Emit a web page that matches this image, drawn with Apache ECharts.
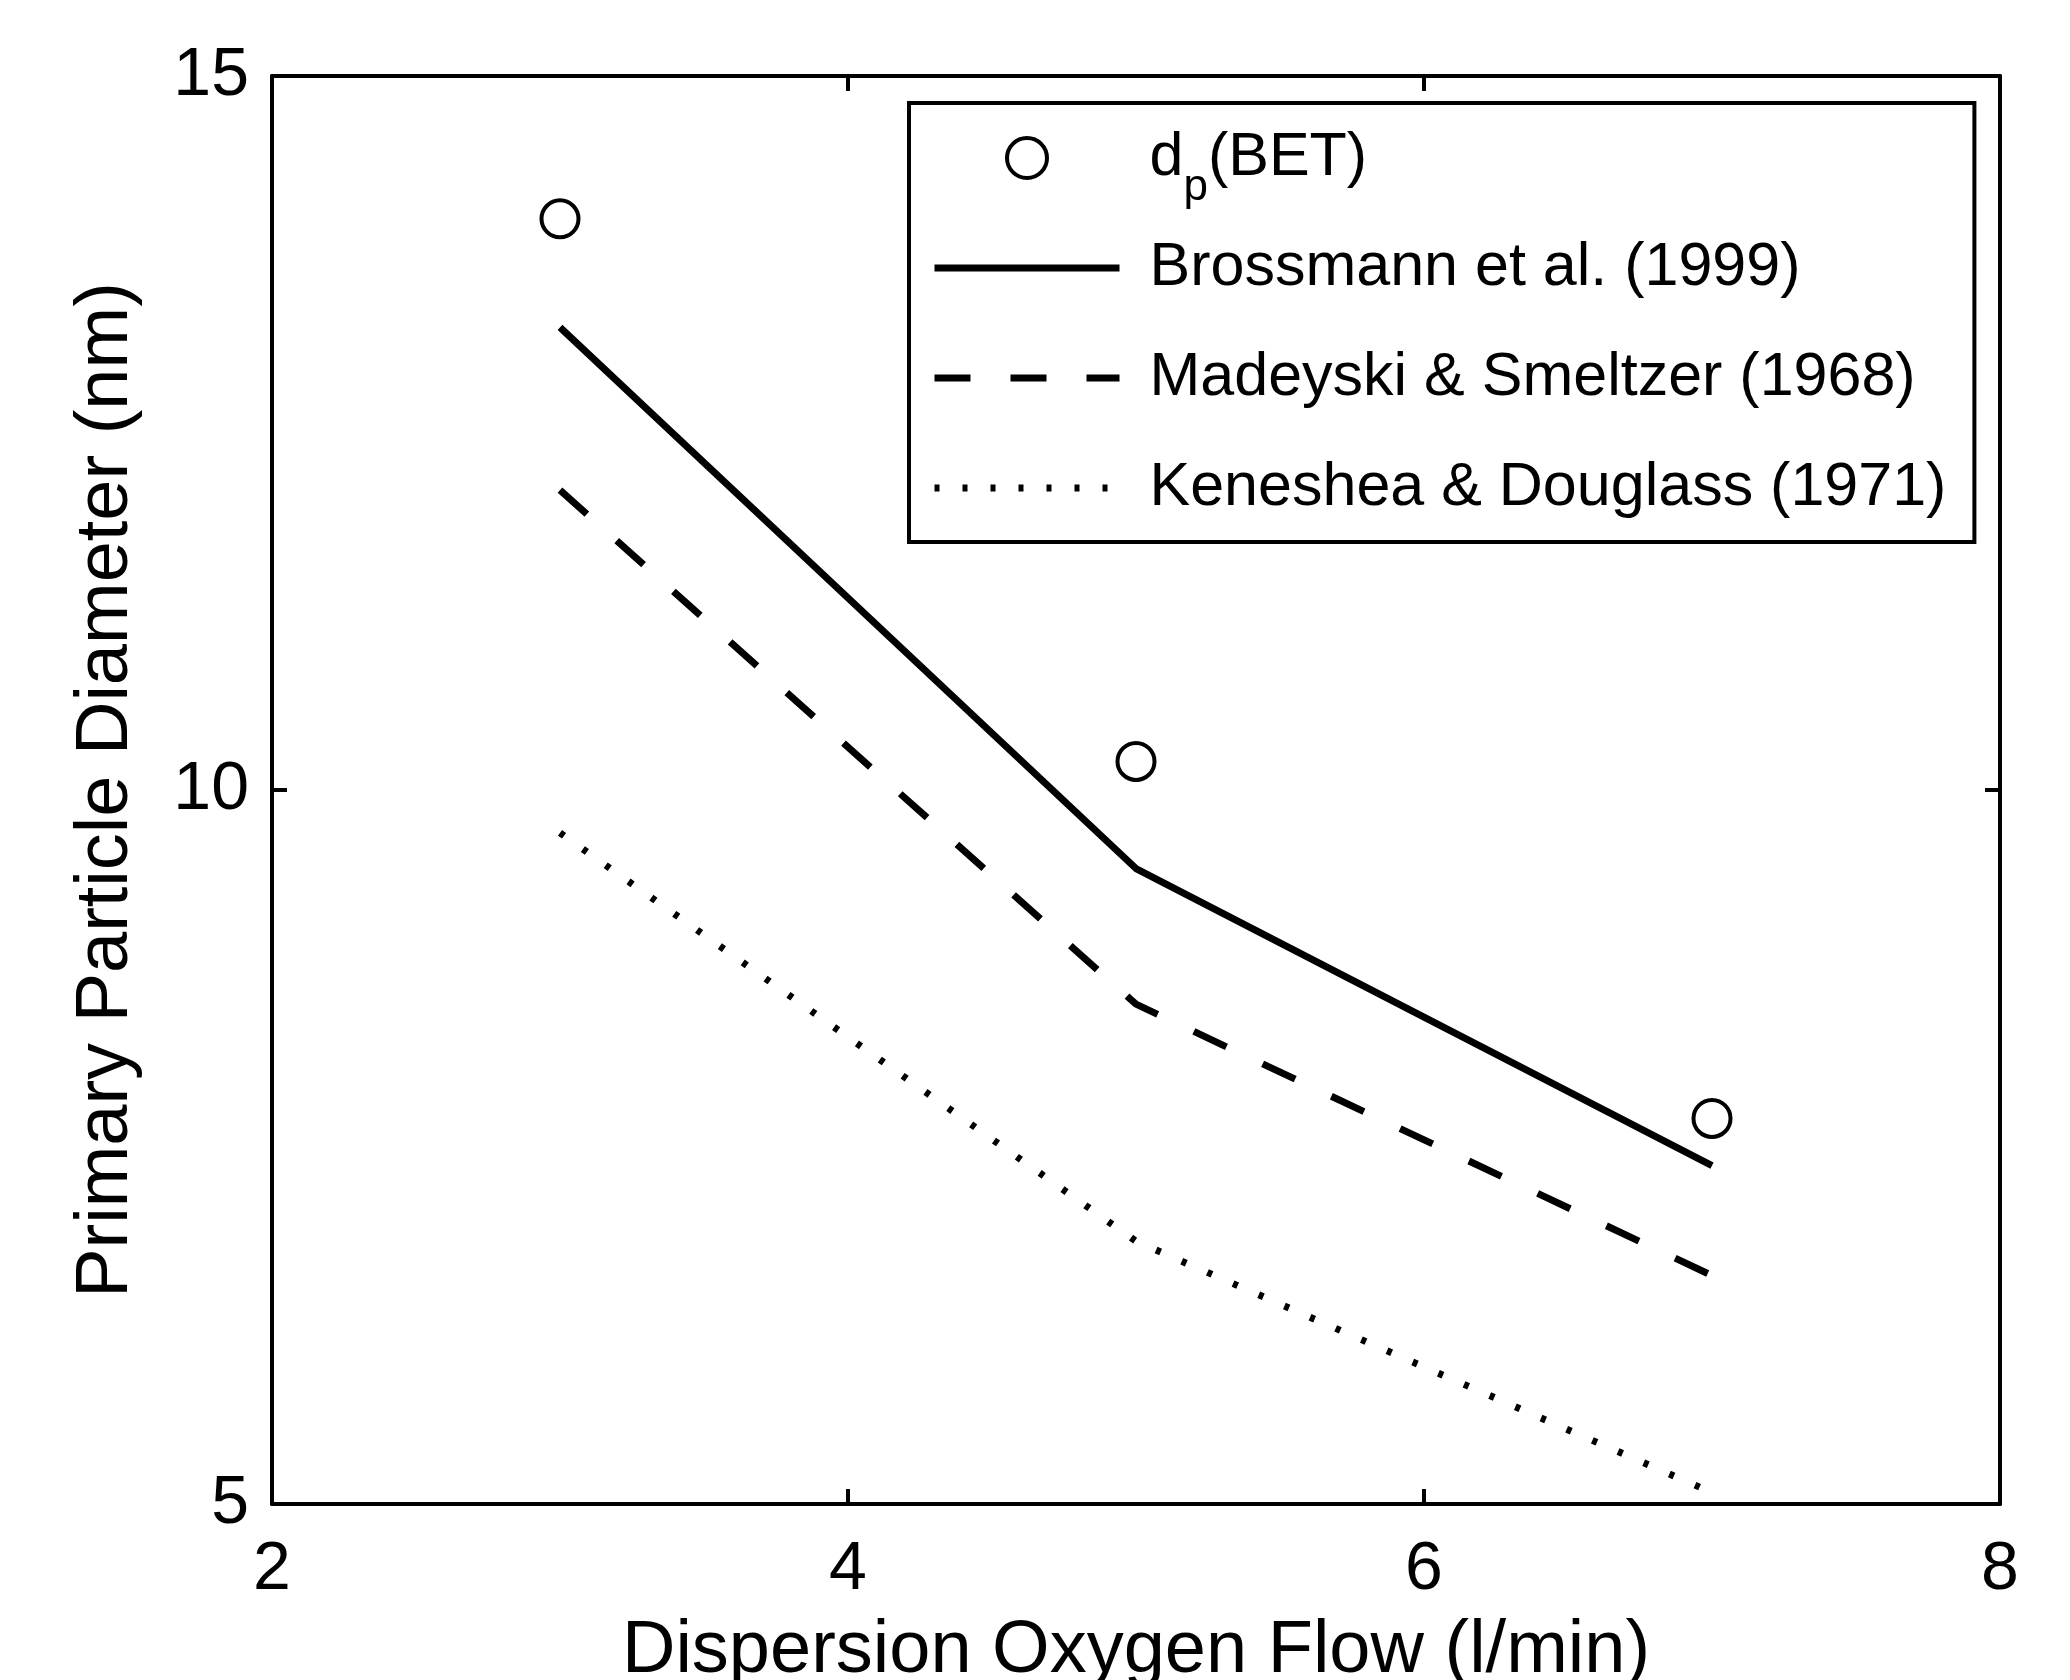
<!DOCTYPE html>
<html>
<head>
<meta charset="utf-8">
<script src="https://cdn.jsdelivr.net/npm/echarts@6/dist/echarts.min.js"></script>
<style>
html,body{margin:0;padding:0;background:#fff;}
#chart{width:2070px;height:1680px;}
</style>
</head>
<body>
<div id="chart"></div>
<script>
// ---- data ----
const flowX = [3, 5, 7];                       // Dispersion oxygen flow (l/min)
const betValues = [14.0, 10.2, 7.7];            // d_p(BET)
const brossmannValues = [13.24, 9.45, 7.37];    // Brossmann et al. (1999)
const madeyskiValues = [12.1, 8.5, 6.6];        // Madeyski & Smeltzer (1968)
const kenesheaValues = [9.7, 6.84, 5.08];       // Keneshea & Douglass (1971)
const seriesNames = ['dp(BET)', 'Brossmann et al. (1999)', 'Madeyski & Smeltzer (1968)', 'Keneshea & Douglass (1971)'];
const xTicks = [2, 4, 6, 8];
const yTicks = [5, 10, 15];
const xTitle = 'Dispersion Oxygen Flow (l/min)';
const yTitle = 'Primary Particle Diameter (nm)';

const FONT = "'Liberation Sans', Arial, Helvetica, sans-serif";
const pairs = (xs, ys) => xs.map((x, i) => [x, ys[i]]);

const axisCommon = {
  type: 'value',
  axisLine: { show: true, lineStyle: { color: '#000', width: 4 } },
  axisTick: { show: true, inside: true, length: 15, lineStyle: { color: '#000', width: 4 } },
  splitLine: { show: false }
};

const hiddenSymbol = { color: 'rgba(0,0,0,0)', borderColor: 'rgba(0,0,0,0)', borderWidth: 0, opacity: 0 };

const chart = echarts.init(document.getElementById('chart'), null, { renderer: 'canvas' });
chart.setOption({
  animation: false,
  backgroundColor: '#fff',
  grid: { left: 272, top: 76, right: 70, bottom: 176, containLabel: false, outerBoundsMode: 'none' },
  xAxis: [
    Object.assign({}, axisCommon, {
      position: 'bottom',
      min: xTicks[0], max: xTicks[xTicks.length - 1], interval: xTicks[1] - xTicks[0],
      name: xTitle, nameLocation: 'middle', nameGap: 111,
      nameTextStyle: { fontFamily: FONT, fontSize: 74, color: '#000' },
      axisLabel: { show: true, margin: 32, fontFamily: FONT, fontSize: 68, color: '#000' }
    }),
    Object.assign({}, axisCommon, {
      position: 'top',
      min: xTicks[0], max: xTicks[xTicks.length - 1], interval: xTicks[1] - xTicks[0],
      axisLabel: { show: false }
    })
  ],
  yAxis: [
    Object.assign({}, axisCommon, {
      position: 'left',
      min: yTicks[0], max: yTicks[yTicks.length - 1], interval: yTicks[1] - yTicks[0],
      name: yTitle, nameLocation: 'middle', nameGap: 128,
      nameTextStyle: { fontFamily: FONT, fontSize: 74, color: '#000' },
      axisLabel: { show: true, margin: 23, fontFamily: FONT, fontSize: 68, color: '#000', padding: [6, 0, 0, 0] }
    }),
    Object.assign({}, axisCommon, {
      position: 'right',
      min: yTicks[0], max: yTicks[yTicks.length - 1], interval: yTicks[1] - yTicks[0],
      axisLabel: { show: false }
    })
  ],
  legend: {
    show: true,
    orient: 'vertical',
    left: 909, top: 103,
    padding: [3, 28, 2, 22],
    itemGap: 6,
    itemWidth: 185,
    itemHeight: 40,
    backgroundColor: '#fff',
    borderColor: '#000',
    borderWidth: 4,
    borderRadius: 0,
    data: [
      { name: seriesNames[0] },
      { name: seriesNames[1], itemStyle: hiddenSymbol },
      { name: seriesNames[2], itemStyle: hiddenSymbol },
      { name: seriesNames[3], itemStyle: hiddenSymbol }
    ],
    itemStyle: { borderWidth: 4 },
    lineStyle: { width: 7 },
    formatter: function (name) {
      if (name === seriesNames[0]) return '{m|d}{s|p}{m|(BET)}';
      return name;
    },
    textStyle: {
      fontFamily: FONT, fontSize: 61, color: '#000', lineHeight: 104,
      padding: [0, 0, 0, 25],
      rich: {
        m: { fontFamily: FONT, fontSize: 61, color: '#000', lineHeight: 104, verticalAlign: 'middle' },
        s: { fontFamily: FONT, fontSize: 44, color: '#000', lineHeight: 44, verticalAlign: 'bottom' }
      }
    }
  },
  series: [
    {
      name: seriesNames[0], type: 'scatter',
      data: pairs(flowX, betValues),
      symbol: 'circle', symbolSize: 37,
      itemStyle: { color: 'rgba(0,0,0,0)', borderColor: '#000', borderWidth: 4, opacity: 1 }
    },
    {
      name: seriesNames[1], type: 'line',
      data: pairs(flowX, brossmannValues),
      symbol: 'none', showSymbol: false,
      lineStyle: { color: '#000', width: 7, type: 'solid' },
      itemStyle: { color: '#000' }
    },
    {
      name: seriesNames[2], type: 'line',
      data: pairs(flowX, madeyskiValues),
      symbol: 'none', showSymbol: false,
      lineStyle: { color: '#000', width: 7, type: [36, 40] },
      itemStyle: { color: '#000' }
    },
    {
      name: seriesNames[3], type: 'line',
      data: pairs(flowX, kenesheaValues),
      symbol: 'none', showSymbol: false,
      lineStyle: { color: '#000', width: 7, type: [5, 23] },
      itemStyle: { color: '#000' }
    }
  ]
});
</script>
</body>
</html>
